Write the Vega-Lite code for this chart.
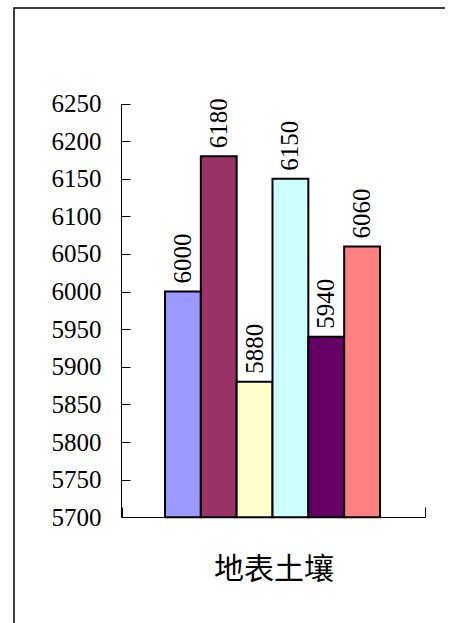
{
  "$schema": "https://vega.github.io/schema/vega-lite/v6.json",
  "autosize": "none",
  "width": 431,
  "height": 615,
  "padding": {"left": 14, "top": 8, "right": 6, "bottom": 0},
  "background": "white",
  "config": {
    "view": {"stroke": "black", "strokeWidth": 1.5, "strokeDash": [431, 1046, 615]},
    "axis": {"domainColor": "black", "tickColor": "black", "labelColor": "black", "grid": false}
  },
  "data": {
    "values": [
      {"group": "地表土壤", "series": "s1", "value": 6000},
      {"group": "地表土壤", "series": "s2", "value": 6180},
      {"group": "地表土壤", "series": "s3", "value": 5880},
      {"group": "地表土壤", "series": "s4", "value": 6150},
      {"group": "地表土壤", "series": "s5", "value": 5940},
      {"group": "地表土壤", "series": "s6", "value": 6060}
    ]
  },
  "encoding": {
    "x": {
      "field": "group",
      "type": "nominal",
      "scale": {"range": [108, 411], "paddingInner": 0, "paddingOuter": 0},
      "axis": {
        "title": null,
        "offset": -106,
        "labelAngle": 0,
        "labelFont": "Noto Sans CJK TC",
        "labelFontSize": 30,
        "labelPadding": 47,
        "tickSize": -10,
        "tickBand": "extent",
        "domainWidth": 1,
        "tickWidth": 1
      }
    },
    "xOffset": {
      "field": "series",
      "type": "nominal",
      "scale": {"range": [43, 258], "paddingInner": 0, "paddingOuter": 0}
    },
    "y": {
      "field": "value",
      "type": "quantitative",
      "scale": {"domain": [5700, 6250], "range": [509.3, 95.5], "zero": false, "nice": false},
      "axis": {
        "title": null,
        "offset": -107,
        "format": "d",
        "values": [5700, 5750, 5800, 5850, 5900, 5950, 6000, 6050, 6100, 6150, 6200, 6250],
        "labelFont": "Liberation Serif",
        "labelFontSize": 25,
        "labelPadding": 29,
        "tickSize": -9,
        "domainWidth": 1,
        "tickWidth": 1
      }
    }
  },
  "layer": [
    {
      "mark": {"type": "bar", "stroke": "black", "strokeWidth": 2},
      "encoding": {
        "y2": {"datum": 5700},
        "color": {
          "field": "series",
          "type": "nominal",
          "legend": null,
          "scale": {
            "domain": ["s1", "s2", "s3", "s4", "s5", "s6"],
            "range": ["#9999FF", "#993366", "#FFFFCC", "#CCFFFF", "#660066", "#FF8080"]
          }
        }
      }
    },
    {
      "mark": {
        "type": "text",
        "angle": 270,
        "align": "left",
        "baseline": "middle",
        "dx": 8,
        "font": "Liberation Serif",
        "fontSize": 25,
        "color": "black"
      },
      "encoding": {"text": {"field": "value", "type": "quantitative", "format": "d"}}
    }
  ]
}
